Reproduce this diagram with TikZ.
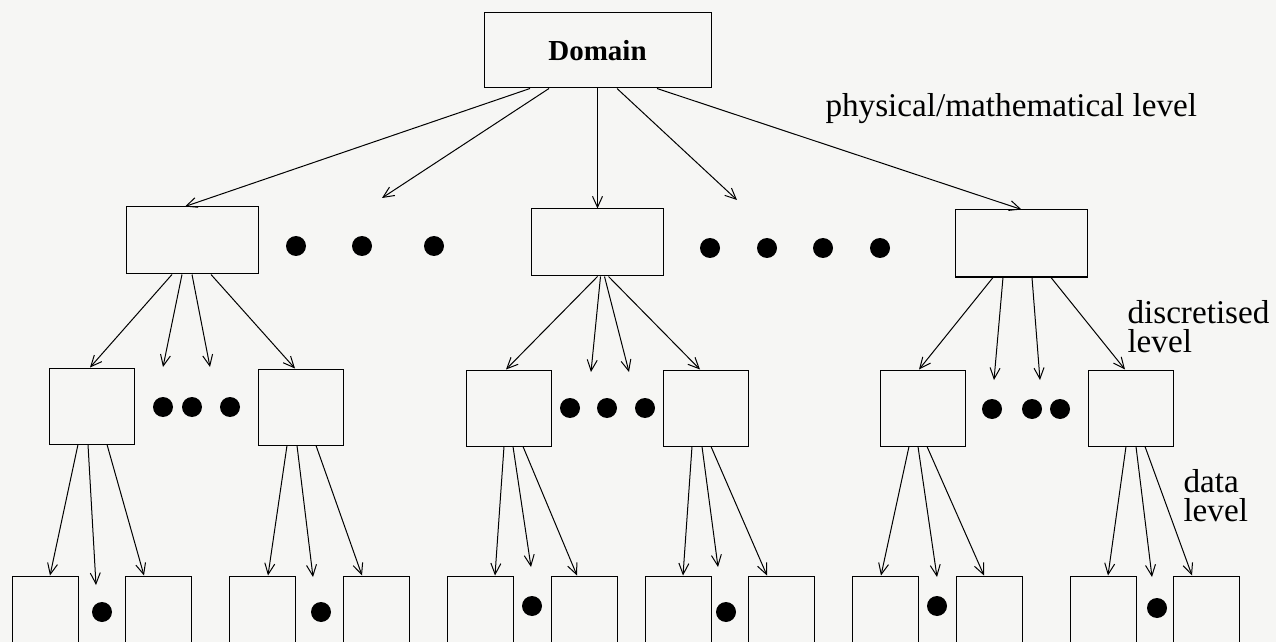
\documentclass[tikz,border=0pt]{standalone}
\usepackage{fontspec}
\setmainfont{Liberation Serif}
\usetikzlibrary{arrows.meta}
\definecolor{paper}{RGB}{246,246,244}

\begin{document}
\begin{tikzpicture}[x=0.5pt,y=-0.5pt,line width=0.5pt,
    >={Straight Barb[length=5.5pt,width=5pt]},
    top/.style={draw,inner sep=0,minimum width=113.5pt,minimum height=37.5pt,
                font=\fontsize{14.5}{17}\selectfont\bfseries},
    mid/.style={draw,inner sep=0,minimum width=66pt,minimum height=33.5pt},
    low/.style={draw,inner sep=0,minimum width=42.5pt,minimum height=38pt},
    leaf/.style={draw,inner sep=0,minimum width=33pt,minimum height=38pt},
    blob/.style={circle,fill,inner sep=0,minimum size=10pt},
    lbl/.style={inner sep=0,align=left,font=\fontsize{16.6}{14.5}\selectfont}]
\clip (0,0) rectangle (1276,642);
\fill[paper] (0,0) rectangle (1276,642);

\node[top] (dom) at (597.5,50.5) {Domain};
\node[mid] (l1a) at (192,240.5) {};
\node[mid] (l1b) at (597.5,242.5) {};
\node[mid] (l1c) at (1021.5,243.5) {};
\node[low] (l2a) at (92,406) {};
\node[low] (l2b) at (300.5,407) {};
\node[low] (l2c) at (508.5,408) {};
\node[low] (l2d) at (705.5,408) {};
\node[low] (l2e) at (923,408) {};
\node[low] (l2f) at (1130.5,408) {};
\foreach \x [count=\i] in {45,158.5,262.5,376,480,584,678,781,885,989.5,1103,1206}
  \node[leaf] (leaf\i) at (\x,614) {};

\foreach \x/\y [count=\i] in {296/246,362/246,434/246,710/248,767/248,823/248,880/248,
    163/407,192/407,230/407,570/408,607/408,645/408,992/409,1032/409,1060/409,
    102/612,321/612,532/606,726/612,937/606,1157/608}
  \node[blob] (b\i) at (\x,\y) {};

\node[lbl,anchor=base west] (phys) at (825,117) {physical/mathematical level};
\node[lbl,anchor=base west] (disc) at (1127,352) {discretised\\level};
\node[lbl,anchor=base west] (data) at (1183,521) {data\\level};

\coordinate (f1) at (382,198);
\coordinate (f2) at (737,200);
\coordinate (f3) at (163,367);
\coordinate (f4) at (210,367);
\coordinate (f5) at (591,372);
\coordinate (f6) at (629,372);
\coordinate (f7) at (994,380);
\coordinate (f8) at (1040,380);
\coordinate (g1) at (96,585);
\coordinate (g2) at (313,577);
\coordinate (g3) at (531,567);
\coordinate (g4) at (718,567);
\coordinate (g5) at (937,577);
\coordinate (g6) at (1152,577);

\draw[->] ([xshift=-33.75pt]dom.south) -- ([xshift=-3.5pt]l1a.north);
\draw[->] ([xshift=-24.25pt]dom.south) -- (f1);
\draw[->] (dom.south) -- (l1b.north);
\draw[->] ([xshift=9.75pt]dom.south) -- (f2);
\draw[->] ([xshift=29.75pt]dom.south) -- (l1c.north);

\draw[->] ([xshift=-10pt]l1a.south) -- ([xshift=-1pt]l2a.north);
\draw[->] ([xshift=-5pt]l1a.south) -- (f3);
\draw[->] (l1a.south) -- (f4);
\draw[->] ([xshift=9.5pt]l1a.south) -- ([xshift=-2.75pt]l2b.north);

\draw[->] (l1b.south) -- ([xshift=-1.25pt]l2c.north);
\draw[->] ([xshift=1.5pt]l1b.south) -- (f5);
\draw[->] ([xshift=3.5pt]l1b.south) -- (f6);
\draw[->] ([xshift=5.5pt]l1b.south) -- ([xshift=-2.75pt]l2d.north);

\draw[->] ([xshift=-14.25pt]l1c.south) -- ([xshift=-2pt]l2e.north);
\draw[->] ([xshift=-9.25pt]l1c.south) -- (f7);
\draw[->] ([xshift=5.25pt]l1c.south) -- (f8);
\draw[->] ([xshift=14.75pt]l1c.south) -- ([xshift=-2.75pt]l2f.north);

\draw[->] ([xshift=-7pt]l2a.south) -- ([xshift=2.5pt]leaf1.north);
\draw[->] ([xshift=-2pt]l2a.south) -- (g1);
\draw[->] ([xshift=7.5pt]l2a.south) -- ([xshift=-7.25pt]leaf2.north);
\draw[->] ([xshift=-6.75pt]l2b.south) -- ([xshift=2.75pt]leaf3.north);
\draw[->] ([xshift=-1.75pt]l2b.south) -- (g2);
\draw[->] ([xshift=7.75pt]l2b.south) -- ([xshift=-7pt]leaf4.north);
\draw[->] ([xshift=-2.25pt]l2c.south) -- ([xshift=7.5pt]leaf5.north);
\draw[->] ([xshift=2.25pt]l2c.south) -- (g3);
\draw[->] ([xshift=7.25pt]l2c.south) -- ([xshift=-3.5pt]leaf6.north);
\draw[->] ([xshift=-6.75pt]l2d.south) -- ([xshift=2.5pt]leaf7.north);
\draw[->] ([xshift=-1.75pt]l2d.south) -- (g4);
\draw[->] ([xshift=2.75pt]l2d.south) -- ([xshift=-7pt]leaf8.north);
\draw[->] ([xshift=-7pt]l2e.south) -- ([xshift=-2pt]leaf9.north);
\draw[->] ([xshift=-2.5pt]l2e.south) -- (g5);
\draw[->] ([xshift=2pt]l2e.south) -- ([xshift=-2.75pt]leaf10.north);
\draw[->] ([xshift=-2.25pt]l2f.south) -- ([xshift=2.5pt]leaf11.north);
\draw[->] ([xshift=2.75pt]l2f.south) -- (g6);
\draw[->] ([xshift=7.25pt]l2f.south) -- ([xshift=-7pt]leaf12.north);
\end{tikzpicture}
\end{document}
